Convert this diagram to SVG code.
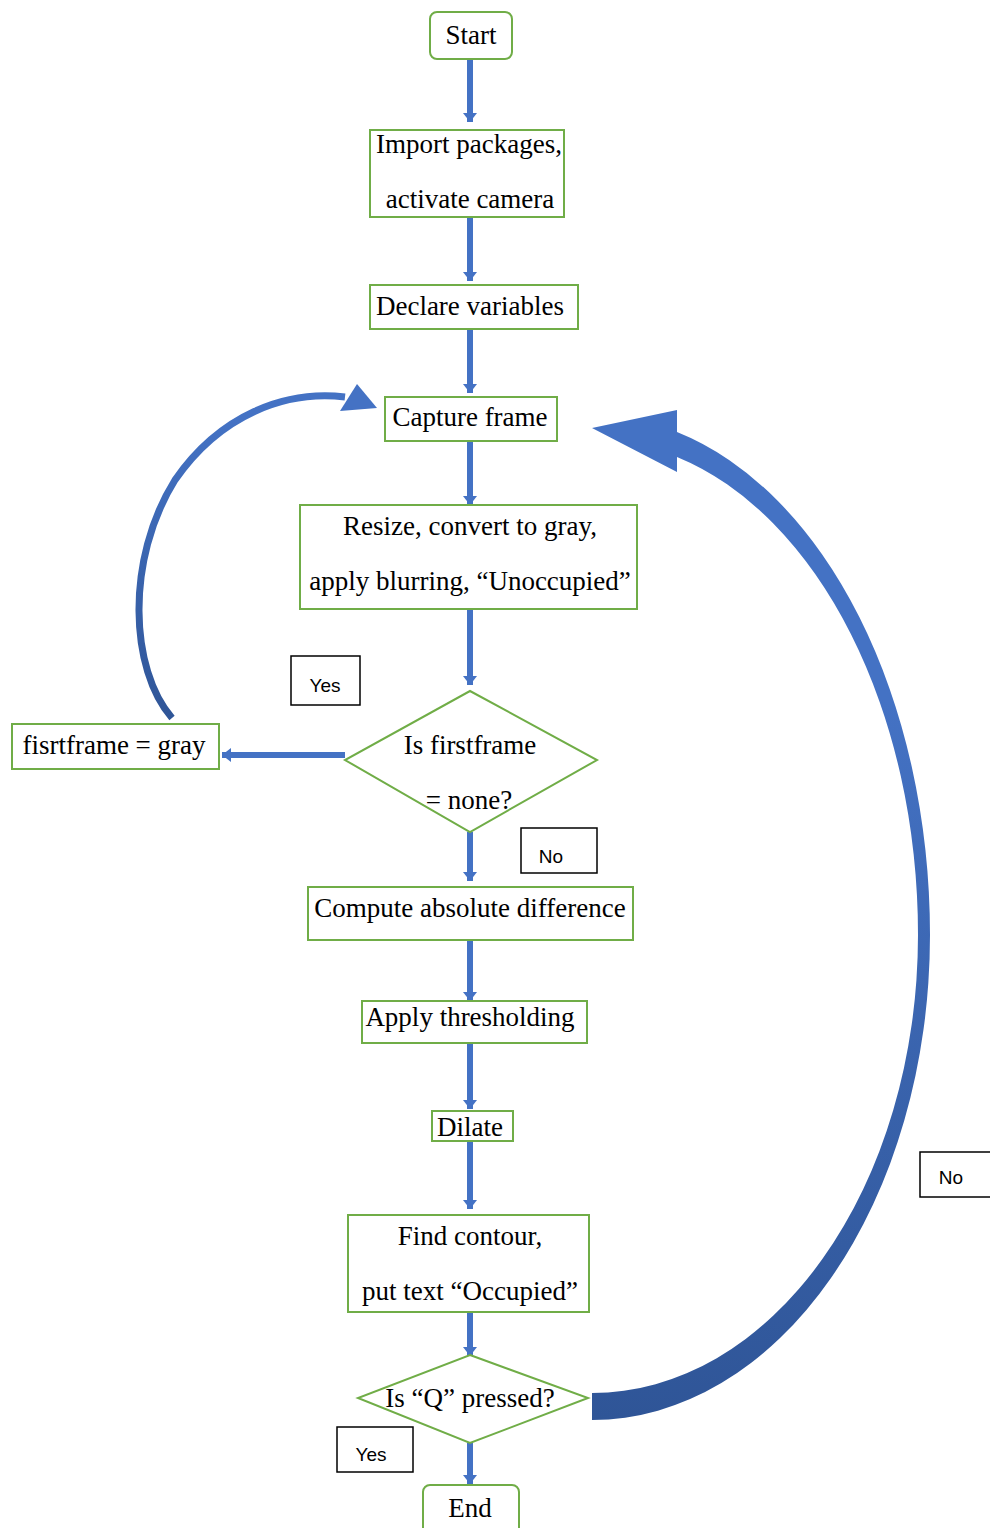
<svg xmlns="http://www.w3.org/2000/svg" width="990" height="1528" viewBox="0 0 990 1528">
<style>
.box{fill:#fff;stroke:#70AD47;stroke-width:2}
.lbl{fill:#fff;stroke:#000;stroke-width:1.5}
.t{font-family:"Liberation Serif","Times New Roman",serif;font-size:27px;fill:#000;text-anchor:middle}
.s{font-family:"Liberation Sans",Arial,sans-serif;font-size:19px;fill:#000;text-anchor:middle}
.arr{stroke:#4472C4;stroke-width:6;fill:none;marker-end:url(#ah)}
</style>
<defs>
<marker id="ah" markerUnits="userSpaceOnUse" markerWidth="10" markerHeight="14" refX="9" refY="7" orient="auto">
<path d="M0,0 L9,7 L0,14 Z" fill="#4472C4"/>
</marker>
<linearGradient id="gR" gradientUnits="userSpaceOnUse" x1="0" y1="700" x2="0" y2="1420">
<stop offset="0" stop-color="#4472C4"/>
<stop offset="1" stop-color="#2F5597"/>
</linearGradient>
<linearGradient id="gL" gradientUnits="userSpaceOnUse" x1="0" y1="420" x2="0" y2="720">
<stop offset="0" stop-color="#4472C4"/>
<stop offset="1" stop-color="#2F5597"/>
</linearGradient>
</defs>

<g id="connectors">
<line class="arr" x1="470" y1="59" x2="470" y2="122"/>
<line class="arr" x1="470" y1="217" x2="470" y2="281"/>
<line class="arr" x1="470" y1="329" x2="470" y2="393"/>
<line class="arr" x1="470" y1="441" x2="470" y2="505"/>
<line class="arr" x1="470" y1="609" x2="470" y2="685"/>
<line class="arr" x1="345" y1="755" x2="222" y2="755"/>
<line class="arr" x1="470" y1="832" x2="470" y2="881"/>
<line class="arr" x1="470" y1="940" x2="470" y2="1001"/>
<line class="arr" x1="470" y1="1043" x2="470" y2="1109"/>
<line class="arr" x1="470" y1="1141" x2="470" y2="1209"/>
<line class="arr" x1="470" y1="1312" x2="470" y2="1356"/>
<line class="arr" x1="470" y1="1443" x2="470" y2="1484"/>
<path d="M172,718 C130,670 125,560 175,480 C220,415 285,390 345,397" fill="none" stroke="url(#gL)" stroke-width="7"/>
<polygon points="377,408 357,384 340,411" fill="#4472C4"/>
<path d="M592,1420 A338,485 0 0 0 930,935 A338,520 0 0 0 677,432 L677,410 L592,428 L677,472 L677,457 A326,495 0 0 1 918,935 A326,458 0 0 1 592,1393 Z" fill="url(#gR)"/>
</g>

<g id="start"><rect class="box" x="430" y="12" width="82" height="47" rx="7"/><text class="t" x="471" y="44">Start</text></g>
<g id="import"><rect class="box" x="370" y="130" width="194" height="87"/><text class="t" x="469" y="153">Import packages,</text><text class="t" x="470" y="208">activate camera</text></g>
<g id="declare"><rect class="box" x="370" y="285" width="208" height="44"/><text class="t" x="470" y="315">Declare variables</text></g>
<g id="capture"><rect class="box" x="385" y="397" width="172" height="44"/><text class="t" x="470" y="426">Capture frame</text></g>
<g id="resize"><rect class="box" x="300" y="505" width="337" height="104"/><text class="t" x="470" y="535">Resize, convert to gray,</text><text class="t" x="470" y="590">apply blurring, “Unoccupied”</text></g>
<g id="isfirst"><polygon class="box" points="470,691 597,760 470,832 345,760"/><text class="t" x="470" y="754">Is firstframe</text><text class="t" x="469" y="809">= none?</text></g>
<g id="firstframe"><rect class="box" x="12" y="724" width="207" height="45"/><text class="t" x="114" y="754">fisrtframe = gray</text></g>
<g id="yes1"><rect class="lbl" x="291" y="656" width="69" height="49"/><text class="s" x="325" y="692">Yes</text></g>
<g id="no1"><rect class="lbl" x="521" y="828" width="76" height="45"/><text class="s" x="551" y="863">No</text></g>
<g id="compute"><rect class="box" x="308" y="887" width="325" height="53"/><text class="t" x="470" y="917">Compute absolute difference</text></g>
<g id="threshold"><rect class="box" x="362" y="1001" width="225" height="42"/><text class="t" x="470" y="1026">Apply thresholding</text></g>
<g id="dilate"><rect class="box" x="432" y="1111" width="81" height="30"/><text class="t" x="470" y="1136">Dilate</text></g>
<g id="contour"><rect class="box" x="348" y="1215" width="241" height="97"/><text class="t" x="470" y="1245">Find contour,</text><text class="t" x="470" y="1300">put text “Occupied”</text></g>
<g id="isq"><polygon class="box" points="470,1355 588,1398 470,1443 358,1398"/><text class="t" x="470" y="1407">Is “Q” pressed?</text></g>
<g id="yes2"><rect class="lbl" x="337" y="1427" width="76" height="45"/><text class="s" x="371" y="1461">Yes</text></g>
<g id="no2"><rect class="lbl" x="920" y="1152" width="80" height="45"/><text class="s" x="951" y="1184">No</text></g>
<g id="end"><rect class="box" x="423" y="1485" width="96" height="50" rx="7"/><text class="t" x="470" y="1517">End</text></g>
</svg>
